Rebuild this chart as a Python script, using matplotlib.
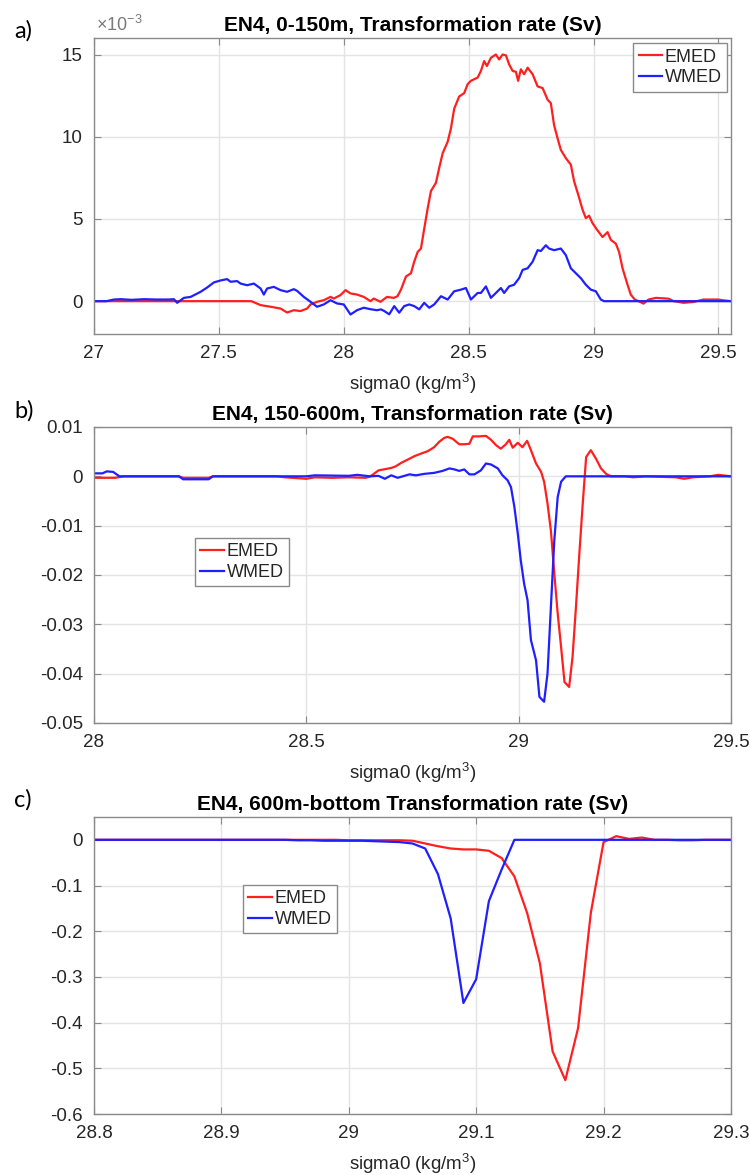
import matplotlib
matplotlib.use('Agg')
import matplotlib.pyplot as plt
import numpy as np
from matplotlib.ticker import FuncFormatter, MultipleLocator

plt.rcParams['font.family'] = ['Liberation Sans', 'DejaVu Sans']
plt.rcParams['mathtext.fontset'] = 'custom'
plt.rcParams['mathtext.rm'] = 'Liberation Sans'
plt.rcParams['mathtext.it'] = 'Liberation Sans:italic'
plt.rcParams['mathtext.bf'] = 'Liberation Sans:bold'
plt.rcParams['axes.unicode_minus'] = False

# a) 0-150m, values in 1e-3 Sv
emed_a_sig = [27.0, 27.63, 27.667, 27.707, 27.747, 27.773, 27.8, 27.827, 27.853, 27.867,
              27.893, 27.92, 27.947, 27.96, 27.987, 28.007, 28.027, 28.053, 28.08, 28.107,
              28.12, 28.147, 28.173, 28.2, 28.215, 28.229, 28.249, 28.269, 28.282, 28.296,
              28.309, 28.322, 28.336, 28.349, 28.369, 28.382, 28.396, 28.416, 28.429, 28.442,
              28.462, 28.482, 28.496, 28.509, 28.536, 28.549, 28.562, 28.573, 28.589, 28.609,
              28.622, 28.636, 28.649, 28.662, 28.676, 28.689, 28.698, 28.709, 28.722, 28.736,
              28.756, 28.776, 28.796, 28.816, 28.829, 28.842, 28.856, 28.869, 28.889, 28.909,
              28.922, 28.942, 28.956, 28.969, 28.982, 28.996, 29.016, 29.036, 29.056, 29.069,
              29.089, 29.102, 29.116, 29.136, 29.149, 29.165, 29.18, 29.2, 29.22, 29.25,
              29.3, 29.32, 29.36, 29.4, 29.44, 29.5, 29.52, 29.55]
emed_a = [0, 0, -0.24, -0.34, -0.45, -0.69, -0.55, -0.6, -0.45, -0.2,
          -0.04, 0.06, 0.26, 0.16, 0.37, 0.67, 0.47, 0.4, 0.26, 0.0,
          0.16, -0.04, 0.26, 0.2, 0.3, 0.7, 1.5, 1.7, 2.4, 3.0,
          3.2, 4.4, 5.65, 6.7, 7.2, 8.1, 9.0, 9.7, 10.5, 11.7,
          12.45, 12.65, 13.2, 13.4, 13.6, 14.0, 14.6, 14.3, 14.8, 15.0,
          14.7, 15.0, 14.95, 14.4, 14.0, 13.95, 13.4, 14.1, 13.8, 14.2,
          13.8, 13.06, 12.96, 12.25, 12.04, 10.7, 9.9, 9.2, 8.7, 8.3,
          7.3, 6.3, 5.56, 5.05, 5.2, 4.74, 4.3, 3.9, 4.2, 3.73,
          3.5, 3.0, 2.0, 1.0, 0.4, 0.1, 0, -0.15, 0.1, 0.2,
          0.15, 0, -0.1, -0.05, 0.1, 0.1, 0.05, 0]

wmed_a_sig = [27.0, 27.05, 27.08, 27.107, 27.15, 27.2, 27.25, 27.3, 27.32, 27.333,
              27.36, 27.387, 27.4, 27.427, 27.453, 27.48, 27.507, 27.533, 27.547, 27.573,
              27.587, 27.613, 27.64, 27.667, 27.68, 27.693, 27.72, 27.747, 27.773, 27.8,
              27.813, 27.84, 27.867, 27.893, 27.92, 27.947, 27.973, 28.0, 28.027, 28.053,
              28.08, 28.107, 28.133, 28.149, 28.162, 28.182, 28.202, 28.222, 28.242, 28.262,
              28.282, 28.302, 28.322, 28.342, 28.362, 28.389, 28.416, 28.442, 28.469, 28.489,
              28.509, 28.536, 28.549, 28.569, 28.589, 28.609, 28.629, 28.642, 28.662, 28.682,
              28.702, 28.716, 28.736, 28.756, 28.776, 28.789, 28.809, 28.822, 28.842, 28.869,
              28.889, 28.909, 28.929, 28.949, 28.969, 28.989, 29.009, 29.029, 29.042, 29.55]
wmed_a = [0, 0, 0.1, 0.12, 0.08, 0.12, 0.1, 0.1, 0.12, -0.1,
          0.2, 0.26, 0.36, 0.57, 0.83, 1.14, 1.26, 1.34, 1.18, 1.22,
          1.07, 0.97, 1.07, 0.77, 0.4, 0.77, 0.87, 0.67, 0.57, 0.73,
          0.63, 0.26, -0.04, -0.34, -0.2, 0.06, -0.14, -0.2, -0.81, -0.55,
          -0.4, -0.49, -0.55, -0.5, -0.6, -0.8, -0.3, -0.7, -0.3, -0.2,
          -0.3, -0.5, -0.1, -0.4, -0.2, 0.3, 0.1, 0.6, 0.7, 0.8,
          0.1, 0.5, 0.5, 0.9, 0.2, 0.5, 0.8, 0.5, 0.9, 1.0,
          1.4, 1.9, 2.0, 2.4, 3.1, 3.05, 3.4, 3.2, 3.1, 3.2,
          2.8, 2.0, 1.7, 1.4, 1.0, 0.7, 0.6, 0.1, 0, 0]

# b) 150-600m, Sv
emed_b_sig = [28.0, 28.05, 28.07, 28.2, 28.21, 28.27, 28.28, 28.43, 28.45, 28.5,
              28.52, 28.56, 28.6, 28.64, 28.651, 28.67, 28.7, 28.71, 28.723, 28.739,
              28.755, 28.77, 28.786, 28.801, 28.813, 28.825, 28.833, 28.845, 28.86, 28.872,
              28.884, 28.892, 28.907, 28.923, 28.935, 28.947, 28.958, 28.97, 28.978, 28.986,
              28.998, 29.009, 29.02, 29.029, 29.041, 29.053, 29.06, 29.068, 29.076, 29.084,
              29.092, 29.1, 29.108, 29.119, 29.127, 29.135, 29.143, 29.151, 29.159, 29.17,
              29.182, 29.194, 29.206, 29.217, 29.25, 29.27, 29.3, 29.37, 29.39, 29.41,
              29.45, 29.47, 29.49, 29.5]
emed_b = [-0.0003, -0.0003, 0, 0, -0.0003, -0.0003, 0, 0, -0.0002, -0.0005,
          -0.0002, -0.0003, -0.0002, -0.0003, 0, 0.0012, 0.0017, 0.002, 0.0027, 0.0034,
          0.0041, 0.0046, 0.0051, 0.0059, 0.007, 0.0078, 0.008, 0.0076, 0.0065, 0.0065,
          0.0066, 0.0081, 0.0081, 0.0082, 0.0074, 0.0063, 0.0056, 0.0065, 0.0074, 0.0058,
          0.0068, 0.0059, 0.0072, 0.0053, 0.0026, 0.0009, -0.0011, -0.0055, -0.011, -0.0197,
          -0.0278, -0.0346, -0.0417, -0.0427, -0.0366, -0.0265, -0.0157, -0.0055, 0.0039, 0.0053,
          0.0036, 0.0016, 0.0005, 0, 0, -0.0002, 0, -0.0002, -0.0005, -0.0002,
          0, 0.0003, 0.0001, 0]

wmed_b_sig = [28.0, 28.02, 28.03, 28.045, 28.06, 28.2, 28.21, 28.27, 28.28, 28.5,
              28.52, 28.6, 28.62, 28.65, 28.67, 28.685, 28.7, 28.715, 28.723, 28.743,
              28.758, 28.778, 28.801, 28.821, 28.837, 28.849, 28.86, 28.872, 28.884, 28.896,
              28.911, 28.923, 28.935, 28.951, 28.962, 28.974, 28.982, 28.99, 28.998, 29.005,
              29.013, 29.021, 29.029, 29.041, 29.049, 29.06, 29.068, 29.076, 29.084, 29.092,
              29.1, 29.111, 29.5]
wmed_b = [0.0006, 0.0006, 0.001, 0.0009, 0, 0, -0.0006, -0.0006, 0, 0,
          0.0002, 0.0001, 0.0003, 0, 0.0001, -0.0005, 0.0002, -0.0003, -0.0001, 0.0004,
          0.0002, 0.0005, 0.0007, 0.0011, 0.0016, 0.0014, 0.0011, 0.0014, 0.0004, 0.0004,
          0.0012, 0.0026, 0.0024, 0.0016, 0.0002, -0.0008, -0.0022, -0.0062, -0.0116, -0.017,
          -0.0218, -0.0251, -0.0332, -0.0373, -0.0447, -0.0457, -0.04, -0.0265, -0.013, -0.0042,
          -0.0011, 0, 0]

# c) 600m-bottom, Sv, on a 0.01 density grid
sig_c = np.round(np.arange(28.80, 29.305, 0.01), 2)
emed_c = [0, 0, 0, 0, 0, 0, 0, 0, 0, 0,
          0, 0, 0, 0, 0, 0, 0, 0, 0, 0,
          -0.001, -0.001, -0.001, -0.001, -0.001, -0.002, -0.008, -0.014, -0.019, -0.021,
          -0.021, -0.024, -0.04, -0.08, -0.16, -0.27, -0.463, -0.526, -0.412, -0.16,
          -0.005, 0.008, 0.002, 0.005, 0.0, 0, -0.001, -0.001, 0, 0,
          0]
wmed_c = [0, 0, 0, 0, 0, 0, 0, 0, 0, 0,
          0, 0, 0, 0, 0, 0, -0.001, -0.001, -0.002, -0.002,
          -0.002, -0.002, -0.003, -0.004, -0.005, -0.008, -0.019, -0.075, -0.172, -0.357,
          -0.305, -0.134, -0.065, 0, 0, 0, 0, 0, 0, 0,
          0, 0, 0, 0, 0, 0, 0, 0, 0, 0,
          0]

RED = '#ff1f1f'
BLUE = '#1f1fff'
SPINE = '#8a8a8a'
TXT = '#262626'


def tick_fmt(v, pos):
    # plain matlab-style numbers, no "-0"
    return '%g' % (round(v, 4) + 0.0)


def style_axes(ax, xlim, ylim, xstep, ystep):
    ax.set_xlim(xlim)
    ax.set_ylim(ylim)
    ax.xaxis.set_major_locator(MultipleLocator(xstep))
    ax.yaxis.set_major_locator(MultipleLocator(ystep))
    ax.xaxis.set_major_formatter(FuncFormatter(tick_fmt))
    ax.yaxis.set_major_formatter(FuncFormatter(tick_fmt))
    ax.grid(True, color='#e4e4e4', linewidth=1.0)
    ax.set_axisbelow(True)
    ax.tick_params(direction='in', length=5, width=0.8, color=SPINE,
                   top=True, right=True, labelsize=13.5, labelcolor=TXT, pad=8)
    for s in ax.spines.values():
        s.set_color(SPINE)
        s.set_linewidth(1.0)
    ax.set_xlabel('sigma0 (kg/m$^3$)', fontsize=13.5, color=TXT, labelpad=7)


def add_legend(ax, **kw):
    leg = ax.legend(['EMED', 'WMED'], fontsize=13, frameon=True, fancybox=False,
                    edgecolor=SPINE, framealpha=1, handlelength=1.3,
                    handletextpad=0.15, labelspacing=0.2, borderpad=0.3,
                    borderaxespad=0, **kw)
    leg.get_frame().set_linewidth(1.0)
    for t in leg.get_texts():
        t.set_color(TXT)


fig = plt.figure(figsize=(7.5, 11.75), dpi=100)
ax_a = fig.add_axes([0.1253, 0.7157, 0.8493, 0.2519])
ax_b = fig.add_axes([0.1253, 0.3847, 0.8493, 0.2519])
ax_c = fig.add_axes([0.1253, 0.0519, 0.8493, 0.2528])

# panel a
ax_a.plot(emed_a_sig, emed_a, color=RED, lw=1.6)
ax_a.plot(wmed_a_sig, wmed_a, color=BLUE, lw=1.6)
style_axes(ax_a, (27, 29.55), (-2, 16), 0.5, 5)
ax_a.set_title('EN4, 0-150m, Transformation rate (Sv)', fontsize=15, fontweight='bold',
               color='black', pad=5)
ax_a.text(0.003, 1.012, r'$\times10^{-3}$', transform=ax_a.transAxes, fontsize=13,
          color='#7a7a7a', ha='left', va='bottom')
add_legend(ax_a, loc='upper right', bbox_to_anchor=(0.994, 0.983))

# panel b
ax_b.plot(emed_b_sig, emed_b, color=RED, lw=1.6)
ax_b.plot(wmed_b_sig, wmed_b, color=BLUE, lw=1.6)
style_axes(ax_b, (28, 29.5), (-0.05, 0.01), 0.5, 0.01)
ax_b.set_title('EN4, 150-600m, Transformation rate (Sv)', fontsize=15, fontweight='bold',
               color='black', pad=5)
add_legend(ax_b, loc='upper left', bbox_to_anchor=(0.1586, 0.625))

# panel c
ax_c.plot(sig_c, emed_c, color=RED, lw=1.6)
ax_c.plot(sig_c, wmed_c, color=BLUE, lw=1.6)
style_axes(ax_c, (28.8, 29.3), (-0.6, 0.05), 0.1, 0.1)
ax_c.set_title('EN4, 600m-bottom Transformation rate (Sv)', fontsize=15, fontweight='bold',
               color='black', pad=5)
add_legend(ax_c, loc='upper left', bbox_to_anchor=(0.234, 0.771))

# panel letters
for lab, yy in [('a)', 1 - 31 / 1175), ('b)', 1 - 411 / 1175), ('c)', 1 - 800 / 1175)]:
    fig.text(0.019, yy, lab, fontsize=17, family=['Lato', 'DejaVu Sans'],
             ha='left', va='center', color='black')

fig.savefig('out.png', dpi=100)
